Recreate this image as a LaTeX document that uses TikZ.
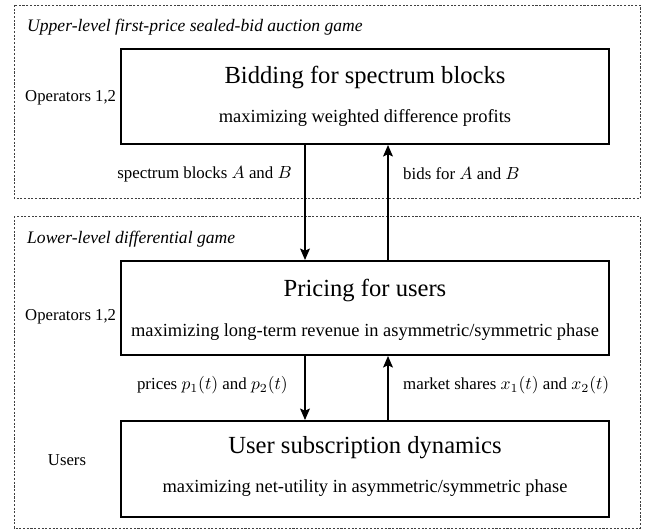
\documentclass[tikz,border=0pt]{standalone}
\usepackage{fontspec}
\setmainfont{Liberation Serif}
\usetikzlibrary{positioning, arrows.meta}

\begin{document}
\begin{tikzpicture}[
    gamebox/.style={
        draw=black!75, dash pattern=on 1.2pt off 0.9pt, line width=0.55pt
    },
    stagebox/.style={
        draw, line width=1.1pt, minimum width=9.76cm, inner sep=0pt
    },
    stagetitle/.style={
        font=\fontsize{14}{16}\selectfont
    },
    stagegoal/.style={
        font=\fontsize{10.5}{12}\selectfont
    },
    gamelbl/.style={
        font=\fontsize{10}{12}\selectfont\itshape, anchor=west
    },
    playerlbl/.style={
        font=\fontsize{9.5}{11}\selectfont
    },
    flowlbl/.style={
        font=\fontsize{9.6}{11}\selectfont
    },
    flow/.style={
        -{Stealth[length=6.5pt, width=5.5pt, inset=1.2pt]}, line width=1.1pt
    }
]

% Layout: 1 px of the 651x531 sketch = 0.02 cm, y grows downward
\useasboundingbox (0, 0) rectangle (13.02, -10.62);

% Game frames
\draw[gamebox] (0.28, -0.10) rectangle (12.80, -3.96);
\draw[gamebox] (0.28, -4.32) rectangle (12.80, -10.56);
\node[gamelbl] (upperlbl) at (0.42, -0.55) {Upper-level first-price sealed-bid auction game};
\node[gamelbl] (lowerlbl) at (0.42, -4.78) {Lower-level differential game};

% Stage boxes
\node[stagebox, minimum height=1.90cm] (bidding) at (7.30, -1.93) {};
\node[stagebox, minimum height=1.88cm] (pricing) at (7.30, -6.16) {};
\node[stagebox, minimum height=1.92cm] (users) at (7.30, -9.38) {};

% Stage texts
\node[stagetitle] (biddingtitle) at (7.30, -1.54) {Bidding for spectrum blocks};
\node[stagegoal] (biddinggoal) at (7.30, -2.36) {maximizing weighted difference profits};
\node[stagetitle] (pricingtitle) at (7.30, -5.80) {Pricing for users};
\node[stagegoal] (pricinggoal) at (7.30, -6.64) {maximizing long-term revenue in asymmetric/symmetric phase};
\node[stagetitle] (userstitle) at (7.30, -8.96) {User subscription dynamics};
\node[stagegoal] (usersgoal) at (7.30, -9.76) {maximizing net-utility in asymmetric/symmetric phase};

% Players
\node[playerlbl, anchor=west] (ops1) at (0.38, -1.96) {Operators 1,2};
\node[playerlbl, anchor=west] (ops2) at (0.38, -6.34) {Operators 1,2};
\node[playerlbl] (userslbl) at (1.34, -9.20) {Users};

% Flows between stages
\draw[flow] ([xshift=-1.20cm]bidding.south) -- ([xshift=-1.20cm]pricing.north);
\draw[flow] ([xshift=0.46cm]pricing.north) -- ([xshift=0.46cm]bidding.south);
\draw[flow] ([xshift=-1.20cm]pricing.south) -- ([xshift=-1.20cm]users.north);
\draw[flow] ([xshift=0.46cm]users.north) -- ([xshift=0.46cm]pricing.south);

% Flow labels
\node[flowlbl, anchor=east] (blockslbl) at (5.96, -3.48) {spectrum blocks $A$ and $B$};
\node[flowlbl, anchor=west] (bidslbl) at (7.94, -3.48) {bids for $A$ and $B$};
\node[flowlbl, anchor=east] (priceslbl) at (5.88, -7.70) {prices $p_1(t)$ and $p_2(t)$};
\node[flowlbl, anchor=west] (shareslbl) at (7.94, -7.70) {market shares $x_1(t)$ and $x_2(t)$};

\end{tikzpicture}
\end{document}
